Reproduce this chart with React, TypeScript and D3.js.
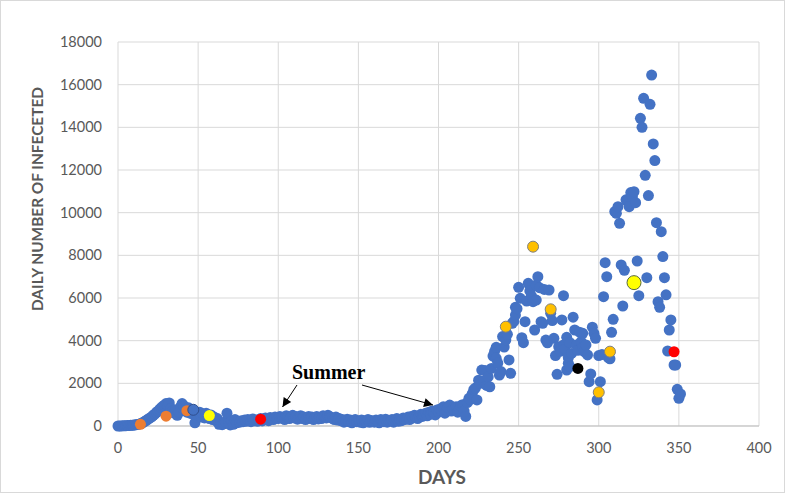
import React from "react";
import * as d3 from "d3";

// Daily cases, one value per day, day 0 .. 224
const earlyCases: number[] = [
  0, 2, 5, 8, 10, 15, 20, 25, 30, 35,
  45, 55, 70, 85, 110, 140, 180, 230, 280, 330,
  380, 430, 500, 560, 640, 700, 780, 860, 920, 980,
  1050, 950, 1080, 820, 700, 600, 750, 500, 650, 900,
  1050, 950, 800, 650, 850, 600, 700, 550, 150, 620,
  500, 650, 420, 560, 380, 600, 450, 350, 520, 300,
  420, 250, 350, 80, 120, 60, 100, 200, 600, 150,
  50, 250, 80, 300, 150, 220, 180, 250, 200, 280,
  220, 300, 260, 200, 330, 250, 280, 220, 300, 350,
  240, 320, 380, 300, 250, 400, 350, 300, 420, 380,
  350, 450, 400, 380, 300, 480, 420, 350, 400, 500,
  380, 450, 320, 400, 480, 350, 420, 300, 400, 450,
  350, 420, 300, 380, 450, 330, 400, 350, 480, 420,
  380, 500, 450, 400, 350, 300, 420, 280, 350, 250,
  300, 180, 250, 320, 200, 280, 150, 250, 300, 200,
  230, 180, 280, 150, 250, 200, 300, 170, 260, 220,
  180, 280, 220, 150, 300, 250, 200, 320, 180, 260,
  230, 300, 180, 280, 350, 220, 300, 250, 380, 300,
  350, 420, 300, 450, 380, 500, 420, 350, 480, 550,
  450, 520, 600, 480, 650, 550, 700, 600, 520, 750,
  650, 800, 700, 900, 600, 750, 850, 980, 700, 800,
  750, 900, 650, 800, 950, 1000, 700, 450, 1100, 1300,
  1250, 1500, 1700, 1780, 1220,
];

// Second and third waves (day, cases)
const lateDays: number[] = [
  225, 226, 227, 228, 229, 230, 231, 232, 233, 234,
  235, 236, 236, 237, 238, 239, 240, 241, 242, 243,
  244, 245, 246, 247, 248, 248, 249, 250, 251, 252,
  253, 254, 255, 256, 257, 258, 259, 260, 261, 261,
  262, 263, 264, 265, 266, 267, 268, 269, 270, 271,
  272, 273, 274, 275, 276, 277, 278, 278, 279, 280,
  280, 281, 281, 282, 282, 283, 284, 285, 286, 287,
  288, 289, 290, 290, 291, 292, 293, 294, 295, 296,
  297, 298, 299, 300, 301, 302, 303, 304, 305, 306,
  307, 308, 309, 310, 311, 312, 313, 314, 315, 316,
  317, 318, 319, 320, 321, 322, 323, 324, 325, 326,
  327, 328, 329, 330, 331, 332, 333, 334, 335, 336,
  337, 338, 339, 340, 341, 342, 343, 344, 345, 347,
  348, 349, 350, 351,
];
const lateCases: number[] = [
  2150, 2000, 2620, 2100, 2600, 1900, 2300, 1840, 2700, 3280,
  3500, 3690, 3170, 2950, 2390, 2550, 4190, 3700, 4030, 4300,
  3095, 2470, 4815, 4900, 5565, 5200, 5500, 6500, 5985, 4140,
  3905, 4890, 5860, 6690, 6330, 6100, 5830, 4500, 5905, 6610,
  7000, 6485, 4890, 4815, 6400, 4030, 3900, 6375, 5280, 4940,
  4110, 3300, 2420, 3720, 3500, 4970, 6110, 3800, 3600, 4155,
  2625, 3200, 2940, 3905, 2780, 3400, 5100, 4500, 3800, 3550,
  4400, 3950, 4345, 3690, 3485, 3800, 3330, 2080, 2440, 4630,
  4345, 4110, 1220, 3300, 2080, 3350, 6060, 7655, 7000, 3200,
  3150, 4390, 5000, 10050, 9970, 10280, 9500, 7550, 5625, 7300,
  10600, 10520, 10280, 10940, 10750, 10985, 10470, 7735, 6110, 14420,
  14000, 15360, 11750, 6950, 10800, 15080, 16450, 13220, 12440, 9530,
  5830, 5565, 9110, 7940, 6950, 6150, 3515, 4500, 4970, 2860,
  2860, 1720, 1300, 1500,
];

// Highlighted days
const markDays: number[] = [14, 30, 43, 47, 57, 89, 242, 259, 270, 300, 307, 287, 322, 347];
const markCases: number[] = [80, 460, 720, 760, 490, 320, 4655, 8406, 5470, 1580, 3485, 2700, 6720, 3480];
const markFill: string[] = [
  "#ED7D31", "#ED7D31", "#ED7D31", "#4472C4", "#FFFF00", "#FF0000",
  "#FFC000", "#FFC000", "#FFC000", "#FFC000", "#FFC000", "#000000", "#FFFF00", "#FF0000",
];
const markStroke: string[] = [
  "none", "none", "none", "#2F4F8F", "none", "none",
  "#7F7F7F", "#7F7F7F", "#7F7F7F", "#7F7F7F", "#7F7F7F", "none", "#5A6A3A", "none",
];
const markR: number[] = [5.5, 5.5, 5.5, 5.5, 5.5, 5.5, 5.5, 5.5, 5.5, 5.5, 5.5, 5.5, 7, 5.5];

const xTicks: number[] = [0, 50, 100, 150, 200, 250, 300, 350, 400];
const yTicks: number[] = [0, 2000, 4000, 6000, 8000, 10000, 12000, 14000, 16000, 18000];

const W = 785;
const H = 493;
const M = { left: 118, right: 759, top: 42, bottom: 426 };

export default function App() {
  const x = d3.scaleLinear().domain([0, 400]).range([M.left, M.right]);
  const y = d3.scaleLinear().domain([0, 18000]).range([M.bottom, M.top]);

  const points = [
    ...earlyCases.map((v, i) => ({ d: i, v })),
    ...lateDays.map((d, i) => ({ d, v: lateCases[i] })),
  ];

  const gray = "#595959";
  const grid = "#D9D9D9";

  return (
    <svg
      width={W}
      height={H}
      style={{ position: "absolute", left: 0, top: 0, background: "#fff" }}
    >
      <rect x={0.5} y={0.5} width={W - 1} height={H - 1} fill="#fff" stroke={grid} />
      {yTicks.map((t) => (
        <line key={"gy" + t} x1={M.left} x2={M.right} y1={y(t)} y2={y(t)} stroke={grid} strokeWidth={1} />
      ))}
      {xTicks.map((t) => (
        <line key={"gx" + t} x1={x(t)} x2={x(t)} y1={M.top} y2={M.bottom} stroke={grid} strokeWidth={1} />
      ))}
      <line x1={M.left} x2={M.right} y1={y(0)} y2={y(0)} stroke="#BFBFBF" strokeWidth={1} />
      {yTicks.map((t) => (
        <text
          key={"ly" + t}
          x={102}
          y={y(t)}
          dy="0.35em"
          textAnchor="end"
          fontFamily="Lato, 'Open Sans', sans-serif"
          fontSize={14.5}
          fill={gray}
        >
          {t}
        </text>
      ))}
      {xTicks.map((t) => (
        <text
          key={"lx" + t}
          x={x(t)}
          y={448}
          dy="0.35em"
          textAnchor="middle"
          fontFamily="Lato, 'Open Sans', sans-serif"
          fontSize={14.5}
          fill={gray}
        >
          {t}
        </text>
      ))}
      <text
        x={442}
        y={477}
        dy="0.35em"
        textAnchor="middle"
        fontFamily="Lato, 'Open Sans', sans-serif"
        fontWeight="bold"
        fontSize={19}
        fill={gray}
      >
        DAYS
      </text>
      <text
        transform={`translate(38,199) rotate(-90)`}
        dy="0.35em"
        textAnchor="middle"
        fontFamily="Lato, 'Open Sans', sans-serif"
        fontWeight="bold"
        fontSize={15}
        fill={gray}
        textLength={224}
        lengthAdjust="spacingAndGlyphs"
      >
        DAILY NUMBER OF INFECETED
      </text>
      <g>
        {points.map((p, i) => (
          <circle key={"p" + i} cx={x(p.d)} cy={y(p.v)} r={5.5} fill="#4472C4" />
        ))}
      </g>
      <g>
        {markDays.map((d, i) => (
          <circle
            key={"m" + i}
            cx={x(d)}
            cy={y(markCases[i])}
            r={markR[i]}
            fill={markFill[i]}
            stroke={markStroke[i]}
            strokeWidth={markStroke[i] === "none" ? 0 : 1}
          />
        ))}
      </g>
      <defs>
        <marker id="arrow" viewBox="0 0 10 10" refX={10} refY={5} markerWidth={12} markerHeight={9} orient="auto" markerUnits="userSpaceOnUse">
          <path d="M0,0 L10,5 L0,10 z" fill="#000" />
        </marker>
      </defs>
      <text
        x={292}
        y={379}
        fontFamily="'Liberation Serif', 'Times New Roman', serif"
        fontWeight="bold"
        fontSize={20}
        fill="#000"
      >
        Summer
      </text>
      <line x1={297} y1={385} x2={282.5} y2={407} stroke="#000" strokeWidth={1} markerEnd="url(#arrow)" />
      <line x1={362} y1={385} x2={433} y2={405} stroke="#000" strokeWidth={1} markerEnd="url(#arrow)" />
    </svg>
  );
}
